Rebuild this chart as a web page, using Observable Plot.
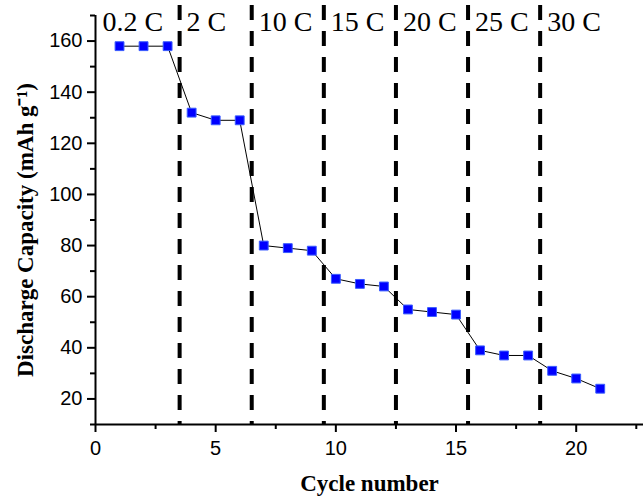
<!DOCTYPE html>
<html>
<head>
<meta charset="utf-8">
<script src="https://cdn.jsdelivr.net/npm/d3@7"></script>
<script src="https://cdn.jsdelivr.net/npm/@observablehq/plot@0.6"></script>
<style>
  body { margin: 0; background: #fff; }
  #chart svg { display: block; }
</style>
</head>
<body>
<div id="chart"></div>
<script>
// Data
const cycles = [1, 2, 3, 4, 5, 6, 7, 8, 9, 10, 11, 12, 13, 14, 15, 16, 17, 18, 19, 20, 21];
const capacity = [158, 158, 158, 132, 129, 129, 80, 79, 78, 67, 65, 64, 55, 54, 53, 39, 37, 37, 31, 28, 24];
const rateLabels = ["0.2 C", "2 C", "10 C", "15 C", "20 C", "25 C", "30 C"];
const rateStarts = [0, 3.5, 6.5, 9.5, 12.5, 15.5, 18.5];
const rateBoundaries = [3.5, 6.5, 9.5, 12.5, 15.5, 18.5];
const xMajorTicks = [0, 5, 10, 15, 20];
const xMinorTicks = [2.5, 7.5, 12.5, 17.5, 22.5];
const yMajorTicks = [20, 40, 60, 80, 100, 120, 140, 160];
const yMinorTicks = [10, 30, 50, 70, 90, 110, 130, 150, 170];
const xDomain = [0, 22.8];
const yDomain = [10, 170];
const xLabel = "Cycle number";
const yLabel = "Discharge Capacity (mAh g\u207B\u00B9)";

const points = cycles.map((c, i) => ({cycle: c, capacity: capacity[i]}));
const rates = rateLabels.map((t, i) => ({label: t, start: rateStarts[i]}));

const serif = "'Liberation Serif', 'Times New Roman', serif";

const chart = Plot.plot({
  width: 644,
  height: 498,
  marginLeft: 95,
  marginRight: 1,
  marginTop: 15,
  marginBottom: 74,
  style: {background: "white", fontFamily: "'Liberation Sans', Arial, sans-serif", fontSize: "20px", color: "black"},
  x: {domain: xDomain},
  y: {domain: yDomain},
  marks: [
    // rate-change dashed separators
    Plot.ruleX(rateBoundaries, {x: d => d, stroke: "black", strokeWidth: 4, strokeDasharray: "15,11", insetTop: -10}),
    // axes lines
    Plot.ruleY([yDomain[0]], {stroke: "black", strokeWidth: 2}),
    Plot.ruleX([xDomain[0]], {stroke: "black", strokeWidth: 2}),
    // ticks
    Plot.axisX(xMajorTicks, {tickSize: 8, tickPadding: 8, strokeWidth: 2, label: null, fontSize: 20}),
    Plot.axisX(xMinorTicks, {tickSize: 5, tickFormat: () => "", strokeWidth: 2, label: null}),
    Plot.axisY(yMajorTicks, {tickSize: 8, tickPadding: 5, strokeWidth: 2, label: null, fontSize: 20}),
    Plot.axisY(yMinorTicks, {tickSize: 5, tickFormat: () => "", strokeWidth: 2, label: null}),
    // data
    Plot.line(points, {x: "cycle", y: "capacity", stroke: "black", strokeWidth: 1}),
    Plot.dot(points, {x: "cycle", y: "capacity", symbol: "square", r: 5, fill: "#0000ff", stroke: "#3a5cff", strokeWidth: 1}),
    // rate labels
    Plot.text(rates, {x: "start", text: "label", frameAnchor: "top", textAnchor: "start", lineAnchor: "middle", dx: 7, dy: 7,
      fontFamily: serif, fontSize: 28, fill: "black"}),
    // axis titles
    Plot.text([xLabel], {frameAnchor: "bottom", textAnchor: "middle", lineAnchor: "middle", dy: 59, fontFamily: serif, fontWeight: "bold", fontSize: 23, fill: "black"}),
    Plot.text([yLabel], {frameAnchor: "left", textAnchor: "middle", lineAnchor: "middle", rotate: -90, dx: -70, dy: 10, fontFamily: serif, fontWeight: "bold", fontSize: 23, fill: "black"})
  ]
});
document.getElementById("chart").appendChild(chart);
</script>
</body>
</html>
